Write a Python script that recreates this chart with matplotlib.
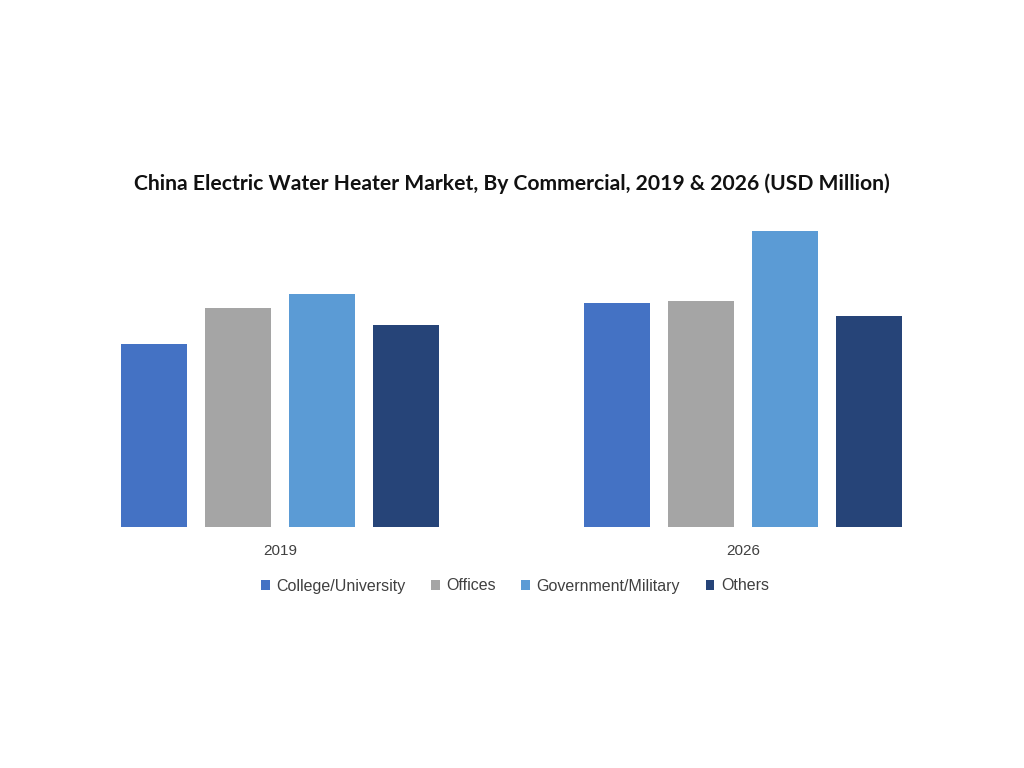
import numpy as np
import matplotlib
matplotlib.use('Agg')
import matplotlib.pyplot as plt

# データ
years = ['2019', '2026']
segments = ['College/University', 'Offices', 'Government/Military', 'Others']
college = [183, 224]
offices = [219, 226]
government = [233, 296]
others = [202, 211]
colors = ['#4472C4', '#A5A5A5', '#5B9BD5', '#264478']

series = [college, offices, government, others]

fig = plt.figure(figsize=(10.24, 7.68), dpi=100)
ax = fig.add_axes([100 / 1024, 1 - 527 / 768, 824 / 1024, 307 / 768])

x = np.arange(len(years))
step = 84 / 463
width = 66 / 463
for i, (name, vals) in enumerate(zip(segments, series)):
    ax.bar(x + (i - 1.5) * step, vals, width, color=colors[i], label=name)

ax.set_xlim((100 - 280) / 463, (924 - 280) / 463)
ax.set_ylim(0, 307)
ax.set_xticks(x)
ax.set_xticklabels(years, fontsize=11, color='#404040', family='Liberation Sans')
ax.tick_params(axis='x', length=0, pad=12)
ax.set_yticks([])
for s in ax.spines.values():
    s.set_visible(False)

fig.text(0.5, 1 - 184 / 768, 'China Electric Water Heater Market, By Commercial, 2019 & 2026 (USD Million)',
         ha='center', va='center', fontsize=15.2, fontweight='bold', family='Lato', color='#111111')

leg = fig.legend(loc='center', bbox_to_anchor=(515 / 1024, 1 - 586 / 768), ncol=4, frameon=False,
                 prop={'family': 'Liberation Sans', 'size': 11.5}, handlelength=0.55, handleheight=0.55,
                 handletextpad=0.4, columnspacing=1.6)
for t in leg.get_texts():
    t.set_color('#404040')

fig.savefig('out.png', dpi=100)
plt.close()
